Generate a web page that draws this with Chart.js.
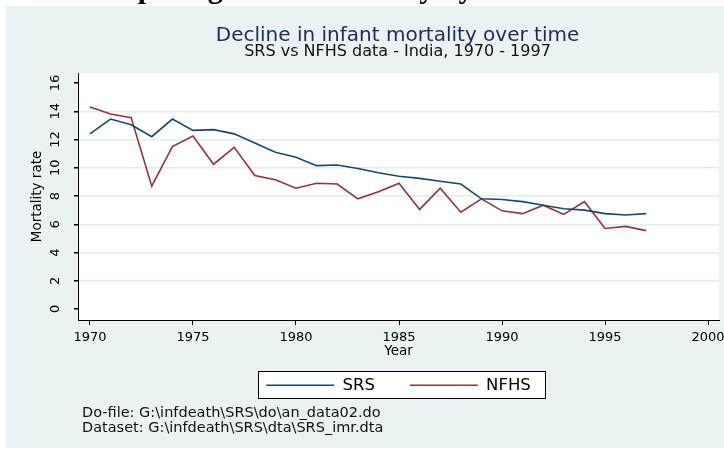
<!DOCTYPE html>
<html>
<head>
<meta charset="utf-8">
<script src="https://cdn.jsdelivr.net/npm/chart.js@4.4.1/dist/chart.umd.min.js"></script>
<style>
  body { margin: 0; background: #fff; }
  #wrap { position: relative; width: 724px; height: 450px; overflow: hidden; }
  #heading {
    position: absolute; left: 76px; top: -27px; z-index: 2;
    font: bold 30px "Liberation Serif", serif; line-height: 30px;
    white-space: nowrap; color: #000;
  }
</style>
</head>
<body>
<div id="wrap">
  <div id="heading">Comparing infant mortality by source</div>
  <canvas id="imrChart"></canvas>
</div>
<script>
// ---- data ----
const years = [1970, 1971, 1972, 1973, 1974, 1975, 1976, 1977, 1978, 1979,
               1980, 1981, 1982, 1983, 1984, 1985, 1986, 1987, 1988, 1989,
               1990, 1991, 1992, 1993, 1994, 1995, 1996, 1997];
const srsRate = [12.4, 13.45, 13.05, 12.2, 13.45, 12.65, 12.7, 12.4, 11.75, 11.1,
                 10.75, 10.15, 10.2, 9.95, 9.65, 9.4, 9.25, 9.05, 8.85, 7.8,
                 7.75, 7.6, 7.35, 7.1, 7.0, 6.75, 6.65, 6.75];
const nfhsRate = [14.3, 13.8, 13.55, 8.7, 11.5, 12.25, 10.25, 11.45, 9.45, 9.15,
                  8.55, 8.9, 8.85, 7.8, 8.3, 8.9, 7.05, 8.55, 6.85, 7.8,
                  6.95, 6.75, 7.35, 6.7, 7.6, 5.7, 5.85, 5.55];
const xTicks = [1970, 1975, 1980, 1985, 1990, 1995, 2000];
const yTicks = [0, 2, 4, 6, 8, 10, 12, 14, 16];

const titleText = 'Decline in infant mortality over time';
const subtitleText = 'SRS vs NFHS data - India, 1970 - 1997';
const noteLines = [
  'Do-file: G:\\infdeath\\SRS\\do\\an_data02.do',
  'Dataset: G:\\infdeath\\SRS\\dta\\SRS_imr.dta'
];

const FONT = "'DejaVu Sans', sans-serif";
const BG = '#EAF2F3';

// stata-ish frame: background, white plot region, legend box, titles, note
const stataFrame = {
  id: 'stataFrame',
  beforeDraw(chart) {
    const { ctx, chartArea: a, legend } = chart;
    ctx.save();
    ctx.fillStyle = BG;
    ctx.fillRect(6, 6, chart.width - 6, chart.height - 8);
    ctx.fillStyle = '#fff';
    ctx.fillRect(a.left, a.top, a.right - a.left, a.bottom - a.top);

    const hb = legend.legendHitBoxes;
    if (hb && hb.length) {
      const first = hb[0];
      const last = hb[hb.length - 1];
      const cy = first.top + first.height / 2;
      const x0 = Math.round(first.left - 8);
      const x1 = Math.round(last.left + last.width + 14);
      const y0 = Math.round(cy - 14);
      ctx.fillRect(x0, y0, x1 - x0, 27);
      ctx.strokeStyle = '#000';
      ctx.lineWidth = 1;
      ctx.strokeRect(x0 + 0.5, y0 + 0.5, x1 - x0, 27);
    }

    const cx = (a.left + a.right) / 2 - 1;
    ctx.textAlign = 'center';
    ctx.textBaseline = 'alphabetic';
    ctx.fillStyle = '#1C2B5A';
    ctx.font = `20px ${FONT}`;
    ctx.fillText(titleText, cx, a.top - 32);
    ctx.fillStyle = '#111';
    ctx.font = `16px ${FONT}`;
    ctx.fillText(subtitleText, cx, a.top - 17);

    ctx.textAlign = 'left';
    ctx.font = `14.5px ${FONT}`;
    noteLines.forEach((t, i) => ctx.fillText(t, 82, 417 + i * 15));
    ctx.restore();
  }
};

function toPoints(values) {
  return years.map((yr, i) => ({ x: yr, y: values[i] }));
}

new Chart(document.getElementById('imrChart'), {
  type: 'line',
  data: {
    datasets: [
      {
        label: 'SRS',
        data: toPoints(srsRate),
        borderColor: '#1A476F',
        backgroundColor: '#1A476F',
        borderWidth: 1.6,
        pointRadius: 0,
        pointStyle: 'line',
        tension: 0
      },
      {
        label: 'NFHS',
        data: toPoints(nfhsRate),
        borderColor: '#90353B',
        backgroundColor: '#90353B',
        borderWidth: 1.6,
        pointRadius: 0,
        pointStyle: 'line',
        tension: 0
      }
    ]
  },
  options: {
    responsive: true,
    maintainAspectRatio: false,
    animation: false,
    layout: { padding: { top: 73, right: 5, bottom: 46.5, left: 0 } },
    plugins: {
      legend: {
        position: 'bottom',
        fullSize: false,
        labels: {
          usePointStyle: true,
          pointStyleWidth: 68,
          padding: 35,
          color: '#000',
          font: { family: FONT, size: 16.5 }
        }
      },
      tooltip: { enabled: false }
    },
    scales: {
      x: {
        type: 'linear',
        min: 1969.42,
        max: 2000.53,
        afterBuildTicks: s => { s.ticks = xTicks.map(v => ({ value: v })); },
        afterFit: s => {
          s.height = 22;
          // let the 2000 label run off the edge like the original
          s.paddingLeft = 0;
          s.paddingRight = 0;
        },
        ticks: {
          padding: 5,
          maxRotation: 0,
          color: '#000',
          font: { family: FONT, size: 13 },
          callback: v => String(v)
        },
        grid: { drawOnChartArea: false, tickLength: 5, tickColor: '#000' },
        border: { color: '#000', width: 1 },
        title: {
          display: true,
          text: 'Year',
          color: '#000',
          font: { family: FONT, size: 13.5 },
          padding: { top: 0, bottom: -18 }
        }
      },
      y: {
        type: 'linear',
        min: -0.78,
        max: 16.71,
        afterBuildTicks: s => { s.ticks = yTicks.map(v => ({ value: v })); },
        afterFit: s => { s.width = 78; },
        ticks: {
          minRotation: 90,
          maxRotation: 90,
          crossAlign: 'center',
          padding: 10.5,
          color: '#000',
          font: { family: FONT, size: 13 },
          callback: v => String(v)
        },
        grid: {
          color: c => (c.tick && (c.tick.value === 0 || c.tick.value === 16)) ? 'rgba(0,0,0,0)' : '#E2ECEE',
          lineWidth: 1.5,
          tickLength: 4,
          tickColor: '#000'
        },
        border: { color: '#000', width: 1 },
        title: {
          display: true,
          text: 'Mortality rate',
          color: '#000',
          font: { family: FONT, size: 13.5 },
          padding: { top: 29, bottom: 0 }
        }
      }
    }
  },
  plugins: [stataFrame]
});
</script>
</body>
</html>
